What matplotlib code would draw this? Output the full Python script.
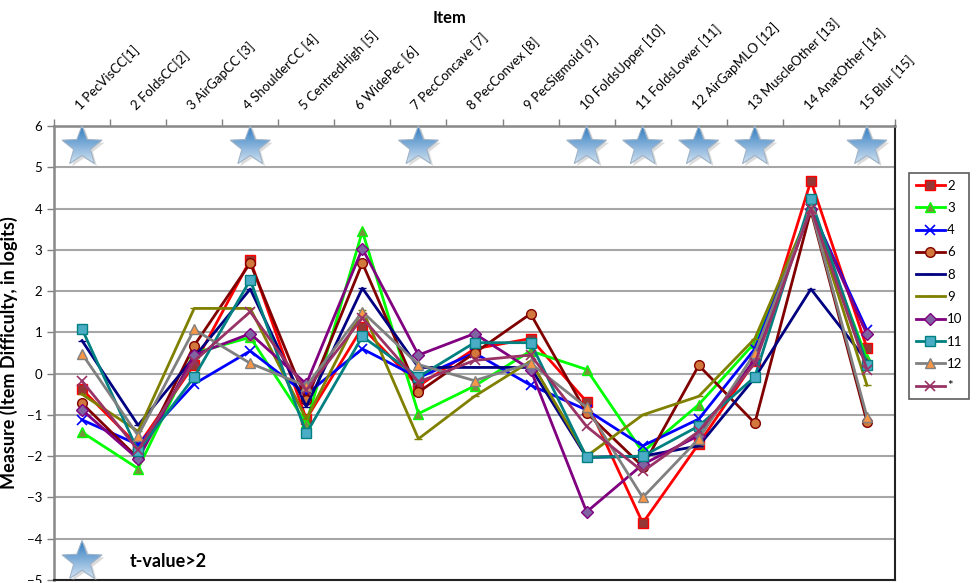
import numpy as np
import matplotlib.pyplot as plt
from matplotlib.patches import Polygon

plt.rcParams['font.family'] = ['Lato', 'DejaVu Sans']

# item names (category axis, shown on top)
items = ['1 PecVisCC[1]', '2 FoldsCC[2]', '3 AirGapCC [3]', '4 ShoulderCC [4]',
         '5 CentredHigh [5]', '6 WidePec [6]', '7 PecConcave [7]', '8 PecConvex [8]',
         '9 PecSigmoid [9]', '10 FoldsUpper [10]', '11 FoldsLower [11]',
         '12 AirGapMLO [12]', '13 MuscleOther [13]', '14 AnatOther [14]', '15 Blur [15]']

# item difficulty (logits) per group
s2 = [-0.38, -1.75, 0.22, 2.75, -1.1, 1.12, -0.3, 0.6, 0.85, -0.68, -3.62, -1.7, 0.3, 4.67, 0.62]
s3 = [-1.42, -2.3, 0.5, 0.88, -1.2, 3.45, -0.97, -0.3, 0.55, 0.1, -1.9, -0.75, 0.75, 4.0, 0.35]
s4 = [-1.12, -1.72, -0.25, 0.55, -0.5, 0.6, -0.1, 0.5, -0.28, -0.88, -1.75, -1.1, 0.6, 4.0, 1.05]
s6 = [-0.72, -2.05, 0.68, 2.68, -0.65, 2.68, -0.45, 0.5, 1.45, -0.95, -2.25, 0.2, -1.2, 3.95, -1.17]
s8 = [0.8, -1.25, 0.4, 2.05, -0.8, 2.07, 0.15, 0.15, 0.15, -2.03, -2.0, -1.75, -0.1, 2.05, 0.3]
s9 = [-0.5, -1.4, 1.58, 1.58, -1.1, 1.55, -1.58, -0.55, 0.3, -2.0, -1.0, -0.55, 0.85, 4.0, -0.28]
s10 = [-0.88, -2.07, 0.45, 0.97, -0.25, 3.03, 0.45, 0.97, 0.1, -3.35, -2.2, -1.5, 0.35, 4.0, 0.95]
s11 = [1.08, -1.88, -0.08, 2.27, -1.45, 0.9, -0.08, 0.75, 0.75, -2.03, -2.0, -1.27, -0.08, 4.22, 0.22]
s12 = [0.48, -1.5, 1.07, 0.25, -0.3, 1.5, 0.22, -0.17, 0.25, -0.82, -3.0, -1.58, 0.5, 4.0, -1.05]
s_other = [-0.18, -1.85, 0.3, 1.5, -0.4, 1.35, -0.2, 0.32, 0.45, -1.28, -2.37, -1.4, 0.25, 4.0, 0.1]

series_names = ['2', '3', '4', '6', '8', '9', '10', '11', '12', '*']

# items flagged with t-value > 2
flagged = [1, 0, 0, 1, 0, 0, 1, 0, 0, 1, 1, 1, 1, 0, 1]

styles = [
    dict(color='#FF0000', marker='s', mfc='#953735', mec='#FF0000', ms=7),
    dict(color='#00FF00', marker='^', mfc='#77933C', mec='#00FF00', ms=7),
    dict(color='#0000FF', marker='x', mfc='none', mec='#0000FF', ms=7, mew=1.2),
    dict(color='#800000', marker='o', mfc='#D2783C', mec='#800000', ms=7),
    dict(color='#000080', marker='_', mfc='#000080', mec='#000080', ms=6),
    dict(color='#808000', marker='_', mfc='#808000', mec='#808000', ms=6),
    dict(color='#800080', marker='D', mfc='#8064A2', mec='#800080', ms=6),
    dict(color='#008080', marker='s', mfc='#4BACC6', mec='#008080', ms=7),
    dict(color='#808080', marker='^', mfc='#F79646', mec='#808080', ms=7),
    dict(color='#993366', marker='x', mfc='none', mec='#993366', ms=7, mew=1.2),
]

data = [s2, s3, s4, s6, s8, s9, s10, s11, s12, s_other]

fig = plt.figure(figsize=(9.76, 5.83), dpi=100)
ax = fig.add_axes([54/976, 1-580/583, (895-54)/976, (580-126)/583])

x = np.arange(1, len(items) + 1)

for vals, name, st in zip(data, series_names, styles):
    ax.plot(x, vals, lw=2, label=name, zorder=3, **st)

ax.set_xlim(0.5, len(items) + 0.5)
ax.set_ylim(-5, 6)

# pixel scale of the data axes, used to keep stars regular
px_x = (895 - 54) / len(items)
px_y = (580 - 126) / 11.0

grad = np.linspace(0, 1, 64).reshape(-1, 1)
from matplotlib.colors import LinearSegmentedColormap
star_cmap = LinearSegmentedColormap.from_list('st', ['#2F7BC0', '#E4EEF8'])


def draw_star(cx, cy, r=21, clip=True):
    ang = np.pi / 2 + np.arange(10) * np.pi / 5
    rad = np.where(np.arange(10) % 2 == 0, r, r * 0.42)
    pts = np.column_stack([cx + rad * np.cos(ang) / px_x, cy + rad * np.sin(ang) / px_y])
    # soft shadow
    sh = Polygon(pts + [2.5 / px_x, -2.5 / px_y], closed=True, fc='#BBBBBB', ec='none',
                 alpha=0.5, zorder=4, clip_on=clip)
    ax.add_patch(sh)
    poly = Polygon(pts, closed=True, fc='none', ec='#9FB3C8', lw=0.8, zorder=6, clip_on=clip)
    ax.add_patch(poly)
    im = ax.imshow(grad, cmap=star_cmap, aspect='auto', zorder=5,
                   extent=[cx - r / px_x, cx + r / px_x, cy - r / px_y, cy + r / px_y],
                   origin='upper')
    im.set_clip_path(poly)


for xi, f in zip(x, flagged):
    if f:
        draw_star(xi, 5.5)

# key for the stars
draw_star(1, -4.55)
ax.text(1.85, -4.55, 't-value>2', fontsize=13, fontweight='bold', va='center')

ax.set_xlim(0.5, len(items) + 0.5)
ax.set_ylim(-5, 6)
ax.set_yticks(range(-5, 7))
ax.yaxis.grid(True, color='#A6A6A6', lw=1.5)
ax.set_axisbelow(True)

ax.xaxis.tick_top()
ax.set_xticks(np.arange(0.5, len(items) + 1, 1))
ax.set_xticklabels([])
ax.set_xticks(x, minor=True)
ax.set_xticklabels(items, minor=True, rotation=45, ha='left', rotation_mode='anchor',
                   fontsize=9.5)
ax.tick_params(axis='x', which='major', length=5, color='#808080', width=1)
ax.tick_params(axis='x', which='minor', length=0, pad=10)
ax.tick_params(axis='y', length=5, color='#808080', width=1, labelsize=9.5)

for side in ['left', 'top']:
    ax.spines[side].set_color('#888888')
    ax.spines[side].set_linewidth(1.8)
for side in ['right', 'bottom']:
    ax.spines[side].set_color('#222222')
    ax.spines[side].set_linewidth(1.5)

ax.set_ylabel('Measure (Item Difficulty, in logits)', fontsize=13, fontweight='bold',
              labelpad=6)
fig.text(450/976, 1-18/583, 'Item', fontsize=12, fontweight='bold', ha='center', va='center')

leg = fig.legend(loc='upper left', bbox_to_anchor=(909/976, 1-173/583), fontsize=9.5,
                 frameon=True, fancybox=False, edgecolor='#333333', handlelength=2.2,
                 handletextpad=0.2, labelspacing=0.78, borderpad=0.5, borderaxespad=0)
leg.get_frame().set_linewidth(1.2)

fig.savefig('out.png', dpi=100)
